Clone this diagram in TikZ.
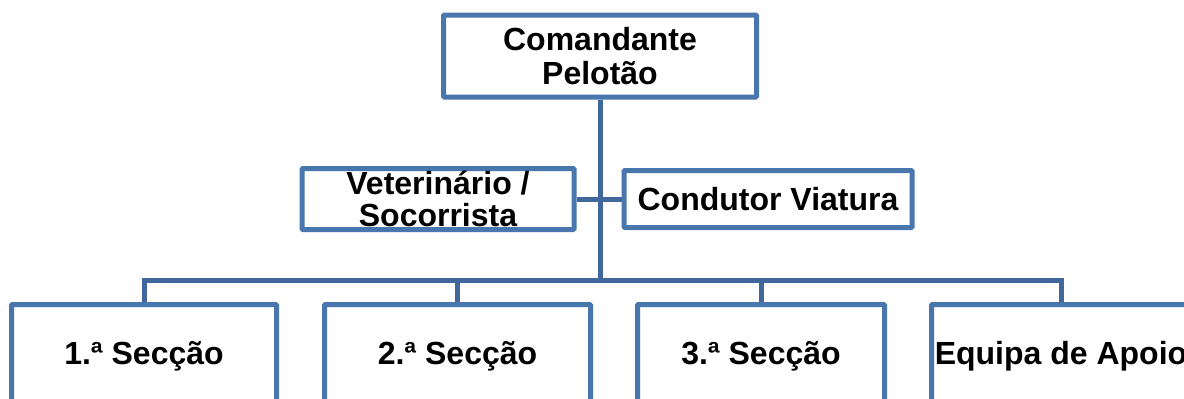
\documentclass[tikz,border=0pt]{standalone}
\usepackage{fontspec}
\setmainfont{Liberation Sans}
\usepackage{tikz}
\usetikzlibrary{positioning,calc}
\definecolor{boxblue}{HTML}{4A76AE}
\definecolor{linkblue}{HTML}{41689C}
\tikzset{
	unit/.style={draw=boxblue, line width=5pt, fill=white, rounded corners=1pt, inner sep=0pt, align=center, font=\fontsize{32}{32}\selectfont\bfseries},
	link/.style={draw=linkblue, line width=5pt}
}
\begin{document}
\begin{tikzpicture}[x=1pt, y=-1pt]
				\useasboundingbox (0,0) rectangle (1184,399);
				\clip (0,0) rectangle (1184,399);
				\node[unit, minimum width=313pt, minimum height=82pt, font=\fontsize{32}{34}\selectfont\bfseries] (cmd) at (600,56) {Comandante\\Pelot\~ao};
				\node[unit, minimum width=272pt, minimum height=61pt] (vet) at (438,199) {Veterin\'ario /\\Socorrista};
				\node[unit, minimum width=288pt, minimum height=57pt] (cond) at (768,199) {Condutor Viatura};
				\node[unit, minimum width=265pt, minimum height=103pt] (s1) at (144,356) {1.ª Secção};
				\node[unit, minimum width=266pt, minimum height=103pt] (s2) at (457.5,356) {2.ª Secção};
				\node[unit, minimum width=247pt, minimum height=103pt] (s3) at (761,356) {3.ª Secção};
				\node[unit, minimum width=259pt, minimum height=103pt] (s4) at (1061,356) {Equipa de Apoio};
				\coordinate (bus) at (600,280);
				\draw[link] (cmd.south) -- (bus);
				\draw[link] (vet.east) -- (cond.west);
				\draw[link] (s1.north) |- (s4.north |- bus) -- (s4.north);
				\draw[link] (s2.north) -- (s2.north |- bus);
				\draw[link] (s3.north) -- (s3.north |- bus);
\end{tikzpicture}
\end{document}
